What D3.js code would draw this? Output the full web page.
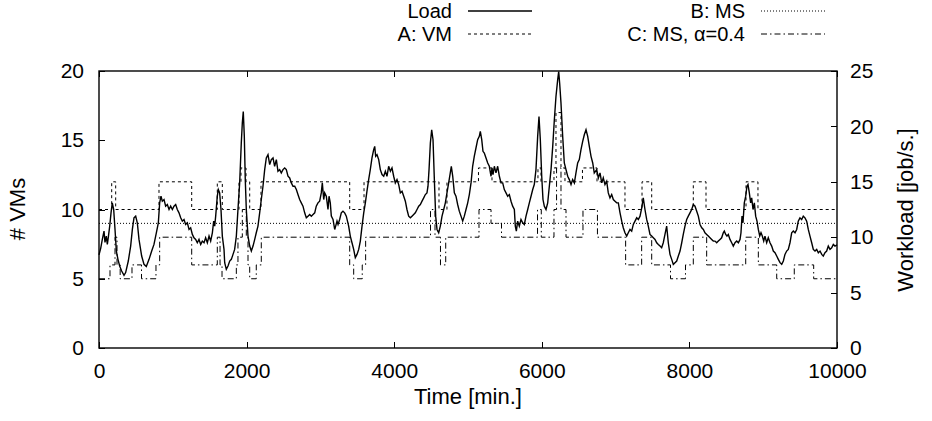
<!DOCTYPE html>
<html lang="en">
<head>
<meta charset="utf-8">
<title>Load and VMs</title>
<script type="text/javascript" src="https://cdn.jsdelivr.net/npm/d3@7/dist/d3.min.js"></script>
<style type="text/css">
    body { margin: 0; background: #fff; }
    text { font-family: "Liberation Sans", Arial, Helvetica, sans-serif; font-size: 22px; fill: #000; }
    .axis path { display: none; }
    .axis line { stroke: #000; stroke-width: 1; shape-rendering: crispEdges; }
    .axis text { font-size: 21px; }
    .legend text { font-size: 20px; }
</style>
</head>
<body>
<script type="text/javascript">
//Tick labels
var xTicks = [0, 2000, 4000, 6000, 8000, 10000];
var yTicks = [0, 5, 10, 15, 20];
var y2Ticks = [0, 5, 10, 15, 20, 25];

//Load [job/s.]
var loadTime = [0,23,45,68,81,99,113,126,145,163,180,199,217,235,257,280,307,339,361,397,429,452,474,497,519,542,578,610,641,678,714,745,777,804,822,840,858,881,903,926,949,971,994,1016,1039,1061,1084,1107,1129,1152,1174,1197,1220,1242,1265,1287,1310,1332,1355,1378,1400,1423,1445,1468,1491,1513,1536,1554,1568,1581,1603,1617,1635,1653,1671,1694,1703,1725,1748,1771,1793,1816,1838,1861,1883,1906,1928,1942,1955,1969,1982,1996,2019,2042,2064,2087,2110,2131,2154,2177,2199,2222,2245,2267,2290,2313,2335,2358,2380,2403,2425,2448,2470,2493,2516,2538,2561,2584,2606,2629,2652,2674,2696,2719,2741,2764,2787,2809,2832,2855,2877,2900,2923,2944,2967,2990,3012,3026,3045,3058,3080,3103,3117,3134,3148,3171,3194,3207,3225,3239,3261,3283,3306,3329,3351,3383,3405,3428,3451,3473,3496,3519,3541,3564,3587,3609,3631,3654,3676,3699,3722,3736,3749,3767,3790,3812,3835,3858,3880,3902,3925,3948,3970,3993,4015,4038,4061,4083,4106,4129,4151,4173,4196,4219,4241,4264,4286,4309,4332,4354,4377,4400,4422,4444,4458,4472,4490,4508,4526,4544,4562,4580,4603,4625,4648,4671,4693,4715,4738,4760,4774,4793,4815,4837,4860,4882,4905,4928,4950,4973,4996,5018,5041,5063,5085,5108,5131,5153,5167,5186,5203,5221,5244,5267,5289,5312,5325,5339,5357,5379,5402,5425,5447,5470,5492,5515,5538,5560,5583,5605,5628,5641,5655,5673,5695,5718,5741,5763,5786,5809,5831,5854,5877,5898,5921,5944,5962,5980,5999,6016,6034,6057,6080,6102,6125,6148,6170,6192,6215,6229,6242,6260,6283,6305,6328,6351,6373,6396,6418,6441,6463,6486,6508,6531,6554,6576,6599,6622,6644,6667,6690,6711,6744,6766,6789,6812,6833,6856,6879,6901,6924,6947,6969,6992,7015,7037,7060,7083,7104,7127,7150,7172,7195,7218,7240,7263,7286,7308,7331,7354,7375,7398,7421,7443,7466,7489,7511,7534,7557,7579,7602,7624,7646,7669,7692,7714,7737,7760,7782,7805,7828,7850,7873,7896,7917,7940,7963,7985,8008,8031,8053,8076,8099,8121,8144,8167,8189,8211,8234,8256,8279,8302,8324,8347,8370,8392,8415,8437,8459,8473,8492,8509,8527,8550,8573,8595,8618,8641,8663,8686,8699,8713,8726,8744,8763,8780,8794,8812,8830,8844,8862,8880,8898,8916,8934,8953,8970,8988,9007,9024,9047,9069,9092,9115,9137,9160,9183,9205,9228,9251,9273,9295,9318,9340,9363,9386,9408,9431,9454,9475,9498,9521,9543,9566,9589,9611,9634,9657,9679,9702,9725,9747,9770,9793,9814,9837,9860,9882,9905,9928,9950,9973,10000];
var loadRate = [8.4,9.0,9.8,10.55,9.53,10.1,9.35,9.98,11.0,12.2,13.1,12.5,10.7,8.75,8.0,7.4,6.95,6.56,6.81,7.85,9.2,10.7,11.75,11.9,11.3,9.8,8.3,7.55,7.35,8.0,8.75,9.35,10.4,11.3,13.1,13.7,13.25,13.4,12.8,12.95,12.5,12.8,12.5,12.8,12.95,12.5,12.2,11.75,11.45,11.6,11.15,11.3,10.7,10.85,10.25,9.95,9.8,9.5,9.8,9.35,9.65,9.5,9.95,9.5,10.1,9.65,10.4,11.45,11.0,11.9,13.7,14.3,14.0,12.5,10.1,8.9,7.7,7.1,7.4,7.85,8.0,8.45,8.9,10.1,12.5,14.9,18.5,20.3,21.35,19.1,15.2,12.5,10.1,9.2,8.75,9.2,9.8,10.4,11.0,12.2,13.4,14.6,16.1,17.15,17.45,16.55,17.0,17.15,16.4,17.0,15.95,16.1,15.8,16.1,16.25,16.1,15.5,15.35,14.9,14.6,14.6,14.3,13.85,13.4,13.1,12.8,12.2,11.75,11.9,12.05,11.9,12.05,12.2,12.8,13.1,13.25,14.0,14.9,13.4,14.0,13.7,12.5,13.7,13.1,11.9,11.6,10.7,11.0,11.45,11.15,11.6,12.2,12.35,12.2,11.9,11.0,10.1,9.5,8.9,8.15,8.45,8.9,9.65,11.0,12.2,13.1,14.15,15.2,16.1,17.15,17.9,18.2,17.3,17.45,17.0,16.1,15.65,15.5,15.95,15.5,16.4,15.95,16.25,15.5,14.9,15.2,14.75,14.0,14.15,13.7,13.25,12.5,11.9,11.75,11.9,12.05,12.2,12.5,12.8,12.95,13.25,13.55,13.85,14.0,14.6,16.1,18.5,19.7,18.8,15.2,11.9,10.7,10.4,11.0,11.9,12.5,13.1,14.0,14.9,15.8,16.4,15.5,14.0,13.7,12.95,12.35,11.9,11.45,11.9,12.5,13.1,13.85,14.9,16.4,17.3,18.05,18.8,19.1,19.55,18.8,17.75,17.6,17.15,16.7,16.4,15.5,16.25,15.65,16.4,15.8,16.4,15.5,14.9,14.9,14.3,14.0,13.7,13.85,13.25,12.8,12.5,11.0,10.55,11.45,11.0,11.6,11.3,11.15,11.9,12.5,13.1,13.7,14.3,14.75,16.1,19.1,20.9,18.8,15.5,13.4,12.8,12.5,13.1,14.6,16.1,18.2,20.6,22.7,24.2,24.95,23.9,22.1,19.1,16.7,16.1,15.5,15.2,14.75,15.2,14.9,15.8,16.7,17.0,17.9,18.65,19.25,19.7,19.1,18.2,17.3,16.7,15.8,16.1,15.35,15.8,14.9,15.35,14.75,15.05,14.0,13.55,13.85,13.4,13.25,13.1,13.1,12.2,11.45,10.85,10.4,10.1,10.4,10.7,10.55,11.15,11.45,11.75,11.6,11.9,12.65,13.55,12.5,11.6,11.0,10.25,10.1,9.95,9.8,9.5,9.35,9.2,9.05,9.5,10.25,11.0,9.5,8.45,8.0,7.55,7.7,7.85,8.3,8.75,9.5,10.25,11.0,11.6,11.9,12.2,12.5,12.95,12.8,12.35,11.9,11.15,10.85,10.7,10.4,10.25,10.1,9.95,9.8,9.65,9.65,9.5,9.65,9.8,9.95,10.4,10.55,10.25,10.1,10.25,9.8,9.5,9.2,9.5,9.65,9.5,9.8,10.4,11.9,11.3,13.1,13.7,14.6,14.75,14.0,13.1,13.55,12.5,13.1,11.9,11.45,10.7,10.1,10.4,10.1,9.65,10.1,9.5,9.95,9.5,9.2,8.75,8.6,8.3,8.0,7.7,7.55,7.85,8.45,8.75,8.9,9.5,10.4,10.55,10.4,10.7,11.45,11.75,11.6,11.9,11.75,11.45,10.7,10.1,9.5,8.9,8.75,8.9,8.6,8.75,8.45,8.3,8.6,8.75,9.2,8.9,9.05,9.35,9.2,9.3];

//A: VM (step changes)
var vmTime = [0,172,226,813,1256,1603,1671,1897,1924,1992,2042,2195,3397,3591,4607,4715,5142,5325,5948,5989,6165,6192,6260,6314,6551,6748,7127,7358,7489,8053,8225,8767,8929,10000];
var vmCount = [10,12,10,12,10,12,10,12,13,12,10,12,10,12,10,12,13,12,13,12,13,17,13,12,13,12,10,12,10,12,10,12,10,10];

//B: MS
var msTime = [0, 10000];
var msCount = [9, 9];

//C: MS, alpha=0.4
var alphaTime = [0,149,217,244,287,447,576,772,822,1256,1603,1640,1667,1861,1883,1942,1996,2019,2042,2131,2199,3397,3451,3567,3613,4492,4553,4627,4698,5149,5312,5454,5942,5993,6165,6200,6260,6328,6558,6754,7136,7353,7489,7744,7947,8053,8234,8763,8934,9183,9421,9684,10000];
var alphaCount = [5,6,8,6,5,6,5,6,8,6,8,6,5,6,8,10,8,6,5,6,8,6,5,6,8,10,8,6,8,10,9,8,10,8,10,13,10,8,10,8,6,8,6,5,6,8,6,8,6,5,6,5,5];

//Width and height
var w = 932;
var h = 421;

var xScale = d3.scaleLinear().domain([0, 10000]).range([99, 837]);
var yScale = d3.scaleLinear().domain([0, 20]).range([348, 71]);
var y2Scale = d3.scaleLinear().domain([0, 25]).range([348, 71]);

var svg = d3.select("body")
            .append("svg")
            .attr("width", w)
            .attr("height", h);

//Axes, ticks pointing inwards like gnuplot
svg.append("g")
   .attr("class", "axis")
   .attr("transform", "translate(0,348)")
   .call(d3.axisBottom(xScale).tickValues(xTicks).tickSize(-6).tickPadding(15).tickFormat(d3.format("d")));

svg.append("g")
   .attr("class", "axis")
   .attr("transform", "translate(0,71)")
   .call(d3.axisTop(xScale).tickValues(xTicks).tickSize(-6).tickFormat(""));

svg.append("g")
   .attr("class", "axis")
   .attr("transform", "translate(99,0)")
   .call(d3.axisLeft(yScale).tickValues(yTicks).tickSize(-6).tickPadding(15));

svg.append("g")
   .attr("class", "axis")
   .attr("transform", "translate(837,0)")
   .call(d3.axisRight(y2Scale).tickValues(y2Ticks).tickSize(-6).tickPadding(13));

//Frame
svg.append("rect")
   .attr("x", 99)
   .attr("y", 71)
   .attr("width", 738)
   .attr("height", 277)
   .attr("fill", "none")
   .attr("stroke", "#000")
   .attr("stroke-width", 1.4);

//Series
var series = [
    {name: "A: VM", t: vmTime, v: vmCount, scale: yScale, curve: d3.curveStepAfter, dash: "3,3", width: 1},
    {name: "B: MS", t: msTime, v: msCount, scale: yScale, curve: d3.curveStepAfter, dash: "1,2", width: 1},
    {name: "C: MS, \u03b1=0.4", t: alphaTime, v: alphaCount, scale: yScale, curve: d3.curveStepAfter, dash: "6,3,1.5,3", width: 1},
    {name: "Load", t: loadTime, v: loadRate, scale: y2Scale, curve: d3.curveLinear, dash: null, width: 1.4}
];

series.forEach(function(s) {
    var line = d3.line()
                 .x(function(d, i) { return xScale(s.t[i]); })
                 .y(function(d) { return s.scale(d); })
                 .curve(s.curve);
    svg.append("path")
       .attr("d", line(s.v))
       .attr("fill", "none")
       .attr("stroke", "#000")
       .attr("stroke-width", s.width)
       .attr("stroke-dasharray", s.dash);
});

//Legend
var legend = [
    {name: "Load", x: 452, y: 18, dash: null, width: 1.4},
    {name: "A: VM", x: 452, y: 41, dash: "3,3", width: 1},
    {name: "B: MS", x: 745, y: 18, dash: "1,2", width: 1},
    {name: "C: MS, \u03b1=0.4", x: 745, y: 41, dash: "6,3,1.5,3", width: 1}
];
var lg = svg.append("g").attr("class", "legend");
legend.forEach(function(l) {
    lg.append("text")
      .attr("x", l.x)
      .attr("y", l.y)
      .attr("text-anchor", "end")
      .text(l.name);
    lg.append("line")
      .attr("x1", l.x + 16)
      .attr("x2", l.x + 80)
      .attr("y1", l.y - 7)
      .attr("y2", l.y - 7)
      .attr("stroke", "#000")
      .attr("stroke-width", l.width)
      .attr("stroke-dasharray", l.dash);
});

//Axis titles
svg.append("text")
   .attr("x", 468)
   .attr("y", 404)
   .attr("text-anchor", "middle")
   .text("Time [min.]");

svg.append("text")
   .attr("transform", "translate(25,209) rotate(-90)")
   .attr("text-anchor", "middle")
   .text("# VMs");

svg.append("text")
   .attr("transform", "translate(913,210) rotate(-90)")
   .attr("text-anchor", "middle")
   .text("Workload [job/s.]");
</script>
</body>
</html>
